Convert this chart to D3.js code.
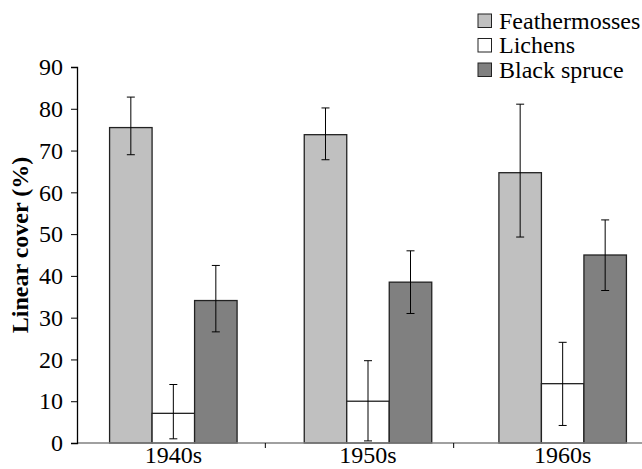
<!DOCTYPE html>
<html>
<head>
<meta charset="utf-8">
<script src="https://cdn.jsdelivr.net/npm/d3@7"></script>
<style>
  body { margin: 0; background: #fff; }
  svg { display: block; }
</style>
</head>
<body>
<svg width="642" height="469"></svg>
<script>
// chart values
const decades = ['1940s', '1950s', '1960s'];
const series = ['Feathermosses', 'Lichens', 'Black spruce'];
const colors = ['#c0c0c0', '#ffffff', '#808080'];
const feathermosses = [75.5, 73.8, 64.7];
const lichens = [7.1, 10.0, 14.2];
const blackSpruce = [34.1, 38.5, 45.0];
const errLow = [[69.0, 67.8, 49.3], [1.0, 0.5, 4.2], [26.6, 31.0, 36.5]];
const errHigh = [[82.8, 80.2, 81.1], [14.0, 19.7, 24.1], [42.5, 46.0, 53.4]];
const yTicks = [0, 10, 20, 30, 40, 50, 60, 70, 80, 90];

const FONT = 'Liberation Serif';
const FS = 24;
const values = [feathermosses, lichens, blackSpruce];
const svg = d3.select('svg');

const y = d3.scaleLinear().domain([0, 90]).range([443, 67]);
// group placement for the bars
const x0 = d3.scaleBand().domain(decades).range([76, 660])
  .paddingInner(0.345).paddingOuter(0.1725);
const x1 = d3.scaleBand().domain(series).range([0, x0.bandwidth()]);
// the category axis itself spans a slightly different width
const xAxisBand = d3.scaleBand().domain(decades).range([77, 642]);

// bars
const rows = [];
decades.forEach((dec, i) => {
  series.forEach((s, j) => {
    rows.push({dec, s, j, v: values[j][i], lo: errLow[j][i], hi: errHigh[j][i]});
  });
});

svg.selectAll('.bar')
  .data(rows)
  .enter()
  .append('rect')
  .attr('class', 'bar')
  .attr('x', d => x0(d.dec) + x1(d.s))
  .attr('y', d => y(d.v))
  .attr('width', x1.bandwidth())
  .attr('height', d => y(0) - y(d.v))
  .attr('fill', d => colors[d.j])
  .attr('stroke', '#222')
  .attr('stroke-width', 1.3);

// x axis line and category separators
svg.append('line')
  .attr('x1', 77).attr('x2', 642)
  .attr('y1', y(0)).attr('y2', y(0))
  .attr('stroke', '#808080').attr('stroke-width', 1.5);
svg.selectAll('.xtick')
  .data(decades.slice(1))
  .enter()
  .append('line')
  .attr('class', 'xtick')
  .attr('x1', d => xAxisBand(d)).attr('x2', d => xAxisBand(d))
  .attr('y1', y(0)).attr('y2', y(0) + 5)
  .attr('stroke', '#000').attr('stroke-width', 1);

// error bars
const cap = 4;
const eb = svg.selectAll('.err')
  .data(rows)
  .enter()
  .append('g')
  .attr('class', 'err')
  .attr('stroke', '#000')
  .attr('stroke-width', 1);
eb.append('line')
  .attr('x1', d => x0(d.dec) + x1(d.s) + x1.bandwidth() / 2)
  .attr('x2', d => x0(d.dec) + x1(d.s) + x1.bandwidth() / 2)
  .attr('y1', d => y(d.lo)).attr('y2', d => y(d.hi));
['lo', 'hi'].forEach((k) => {
  eb.append('line')
    .attr('x1', d => x0(d.dec) + x1(d.s) + x1.bandwidth() / 2 - cap)
    .attr('x2', d => x0(d.dec) + x1(d.s) + x1.bandwidth() / 2 + cap)
    .attr('y1', d => y(d[k])).attr('y2', d => y(d[k]));
});

// y axis
const yAxis = svg.append('g')
  .attr('transform', 'translate(77,0)')
  .call(d3.axisLeft(y).tickValues(yTicks).tickSize(6).tickPadding(8));
yAxis.attr('font-family', FONT).attr('font-size', FS);
yAxis.select('.domain').attr('stroke', '#000').attr('stroke-width', 1.3);
yAxis.selectAll('.tick line').attr('stroke', '#000');
yAxis.selectAll('.tick text').attr('fill', '#000');

// category labels
svg.selectAll('.xlabel')
  .data(decades)
  .enter()
  .append('text')
  .attr('class', 'xlabel')
  .attr('x', d => x0(d) + x0.bandwidth() / 2)
  .attr('y', 463)
  .attr('text-anchor', 'middle')
  .attr('font-family', FONT)
  .attr('font-size', FS)
  .text(d => d);

// y title
svg.append('text')
  .attr('transform', 'translate(28,245) rotate(-90)')
  .attr('text-anchor', 'middle')
  .attr('font-family', FONT)
  .attr('font-size', FS)
  .attr('font-weight', 'bold')
  .text('Linear cover (%)');

// legend
const legend = svg.selectAll('.legend')
  .data(series)
  .enter()
  .append('g')
  .attr('class', 'legend')
  .attr('transform', (d, i) => `translate(478,${14 + i * 24.5})`);
legend.append('rect')
  .attr('width', 13.5).attr('height', 13.5)
  .attr('fill', (d, i) => colors[i])
  .attr('stroke', '#222').attr('stroke-width', 1);
legend.append('text')
  .attr('x', 21).attr('y', 14.5)
  .attr('font-family', FONT)
  .attr('font-size', FS)
  .text(d => d);
</script>
</body>
</html>
